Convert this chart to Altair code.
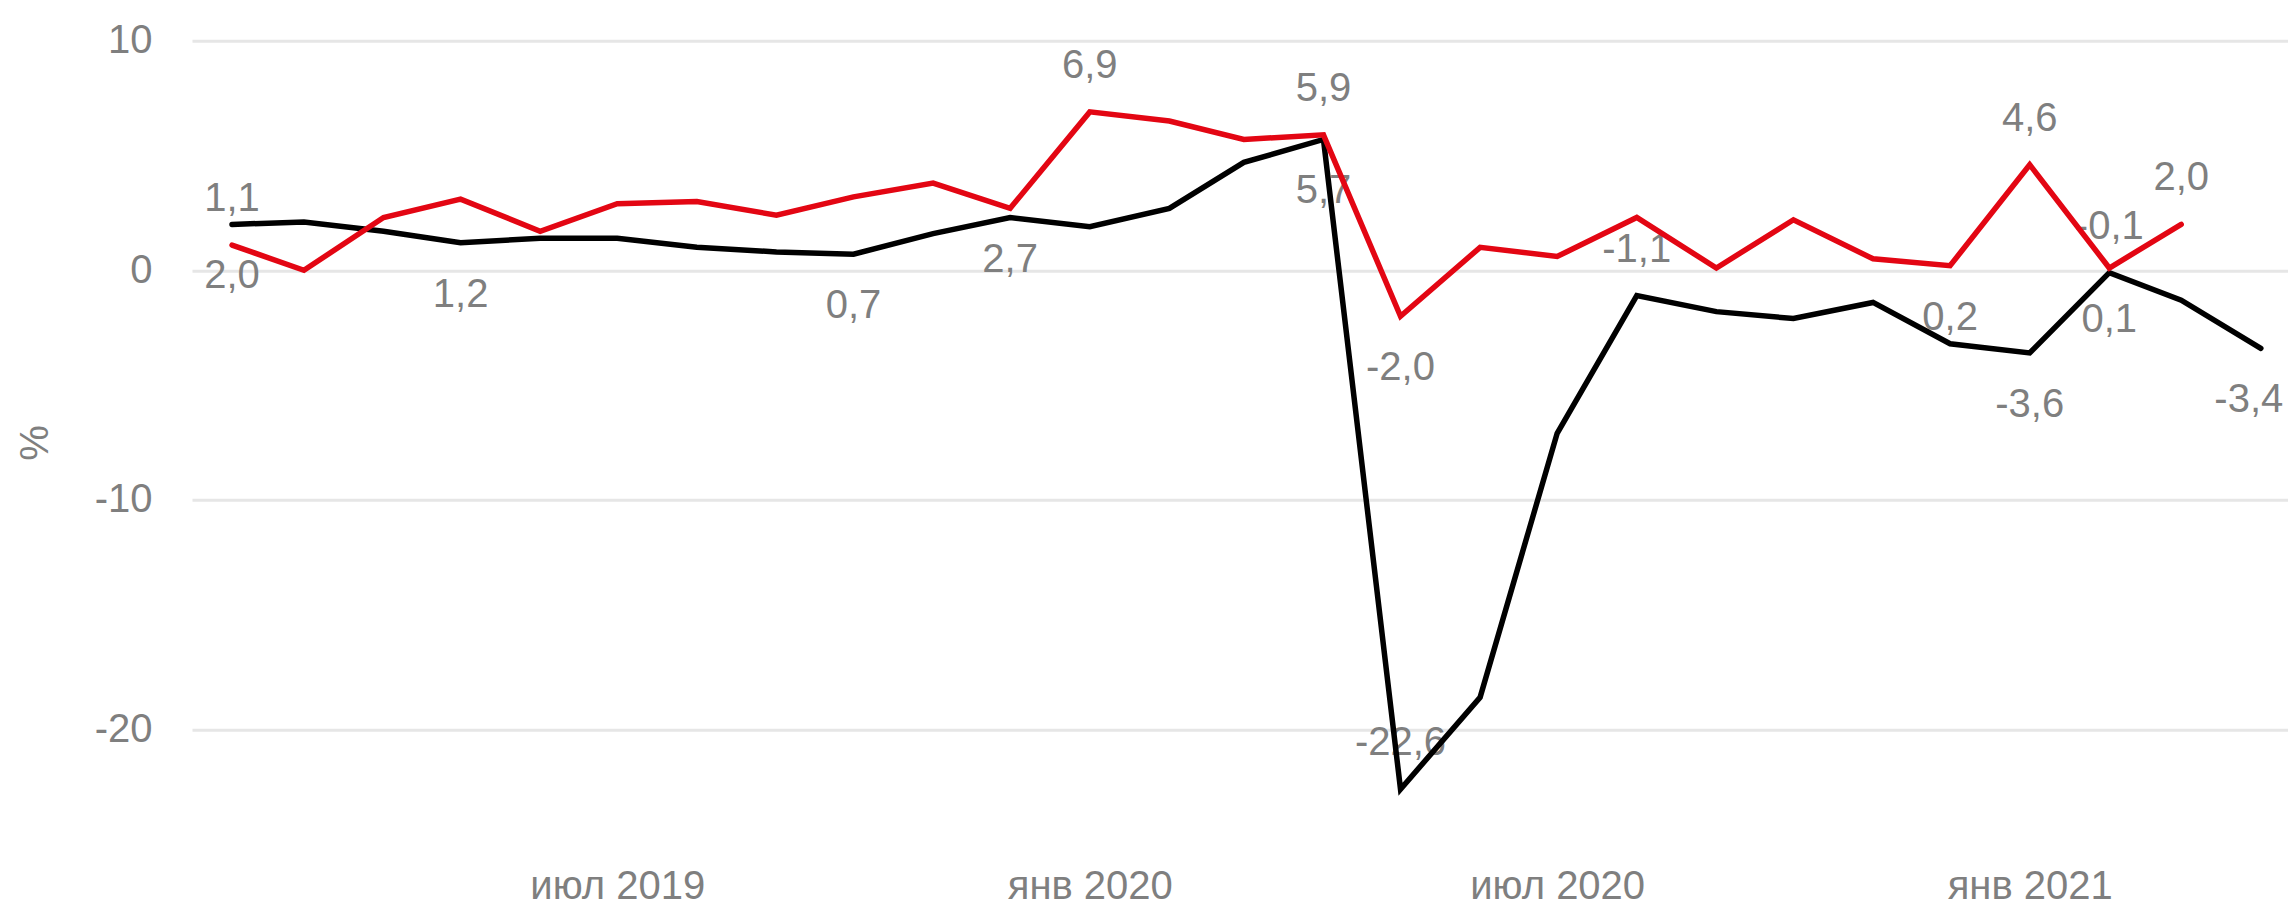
import altair as alt
import pandas as pd

# ---- data ----
months = [
    "2019-02-01", "2019-03-01", "2019-04-01", "2019-05-01", "2019-06-01", "2019-07-01",
    "2019-08-01", "2019-09-01", "2019-10-01", "2019-11-01", "2019-12-01", "2020-01-01",
    "2020-02-01", "2020-03-01", "2020-04-01", "2020-05-01", "2020-06-01", "2020-07-01",
    "2020-08-01", "2020-09-01", "2020-10-01", "2020-11-01", "2020-12-01", "2021-01-01",
    "2021-02-01", "2021-03-01", "2021-04-01",
]
black_values = [2.0, 2.1, 1.7, 1.2, 1.4, 1.4, 1.0, 0.8, 0.7, 1.6, 2.3, 1.9, 2.7, 4.7, 5.7,
                -22.6, -18.6, -7.1, -1.1, -1.8, -2.1, -1.4, -3.2, -3.6, -0.1, -1.3, -3.4]
red_values = [1.1, 0.0, 2.3, 3.1, 1.7, 2.9, 3.0, 2.4, 3.2, 3.8, 2.7, 6.9, 6.5, 5.7, 5.9,
              -2.0, 1.0, 0.6, 2.3, 0.1, 2.2, 0.5, 0.2, 4.6, 0.1, 2.0]

# data labels: (series, month, placement)
label_series = ["red", "black", "black", "black", "red", "red", "red", "black", "red",
                "black", "black", "red", "red", "black", "black", "red", "red", "black"]
label_months = ["2019-02-01", "2019-02-01", "2019-05-01", "2019-10-01", "2019-12-01",
                "2020-01-01", "2020-04-01", "2020-04-01", "2020-05-01", "2020-05-01",
                "2020-08-01", "2020-12-01", "2021-01-01", "2021-01-01", "2021-02-01",
                "2021-02-01", "2021-03-01", "2021-04-01"]
label_place = ["above", "below", "below", "below", "below", "above", "above", "below",
               "below", "above", "above", "below", "above", "below", "above", "below",
               "above", "below_edge"]

x_ticks = ["2019-07-01", "2020-01-01", "2020-07-01", "2021-01-01"]
y_ticks = [-20, -10, 0, 10]

# ---- tables ----
black_df = pd.DataFrame({"date": months, "value": black_values, "series": "black"})
red_df = pd.DataFrame({"date": months[:len(red_values)], "value": red_values, "series": "red"})
lookup = {"black": dict(zip(months, black_values)),
          "red": dict(zip(months[:len(red_values)], red_values))}
lab_df = pd.DataFrame({"series": label_series, "date": label_months, "pos": label_place})
lab_df["value"] = [lookup[s][m] for s, m in zip(label_series, label_months)]
lab_df["text"] = [f"{v:.1f}".replace(".", ",") for v in lab_df["value"]]


def ms(d):
    return int(pd.Timestamp(d, tz="UTC").value // 10**6)


FONT = "Liberation Sans"
GRAY = "#7f7f7f"
W, H = 2096, 803.6

x = alt.X(
    "date:T",
    scale=alt.Scale(type="utc", domain=[ms("2019-01-16T10:00"), ms("2021-04-11T14:00")]),
    axis=alt.Axis(
        values=[ms(t) for t in x_ticks],
        labelExpr="(utcmonth(datum.value) == 0 ? 'янв ' : 'июл ') + utcyear(datum.value)",
        grid=False, domain=False, ticks=False,
        labelFont=FONT, labelFontSize=40, labelColor=GRAY,
        labelBaseline="top", labelPadding=22, labelAlign="center",
        title=None,
    ),
)
y = alt.Y(
    "value:Q",
    scale=alt.Scale(domain=[-25, 10], nice=False, zero=False),
    axis=alt.Axis(
        values=y_ticks,
        labelExpr="datum.value < 0 ? '-' + abs(datum.value) : '' + datum.value",
        grid=True, gridColor="#e6e6e6", gridWidth=3,
        domain=False, ticks=False,
        labelFont=FONT, labelFontSize=40, labelColor=GRAY, labelPadding=40,
        title="%", titleFont=FONT, titleFontSize=40, titleFontWeight="normal",
        titleColor=GRAY, titleAngle=-90, titleX=-157, titleY=H / 2,
        titleAlign="center", titleBaseline="middle",
    ),
)


def label_layer(pos, dy, dx=0):
    return alt.Chart(lab_df).transform_filter(f"datum.pos == '{pos}'").mark_text(
        font=FONT, fontSize=40, color=GRAY, align="center", baseline="middle", dy=dy, dx=dx
    ).encode(x=x, y=y, text="text:N")


labels_above = label_layer("above", -46)
labels_below = label_layer("below", 52)
labels_edge = label_layer("below_edge", 52, -12)

black_line = alt.Chart(black_df).mark_line(
    color="#000000", strokeWidth=5.5, strokeCap="round"
).encode(x=x, y=y)
red_line = alt.Chart(red_df).mark_line(
    color="#e30613", strokeWidth=5.5, strokeCap="round"
).encode(x=x, y=y)

chart = alt.layer(labels_above, labels_below, labels_edge, black_line, red_line).properties(
    width=W, height=H,
    autosize=alt.AutoSizeParams(type="none"),
    padding={"left": 192, "top": 40.7, "right": 0, "bottom": 61.7},
    background="white",
).configure_view(stroke=None)

chart.save("out.html", embed_options={"renderer": "svg", "actions": False})
